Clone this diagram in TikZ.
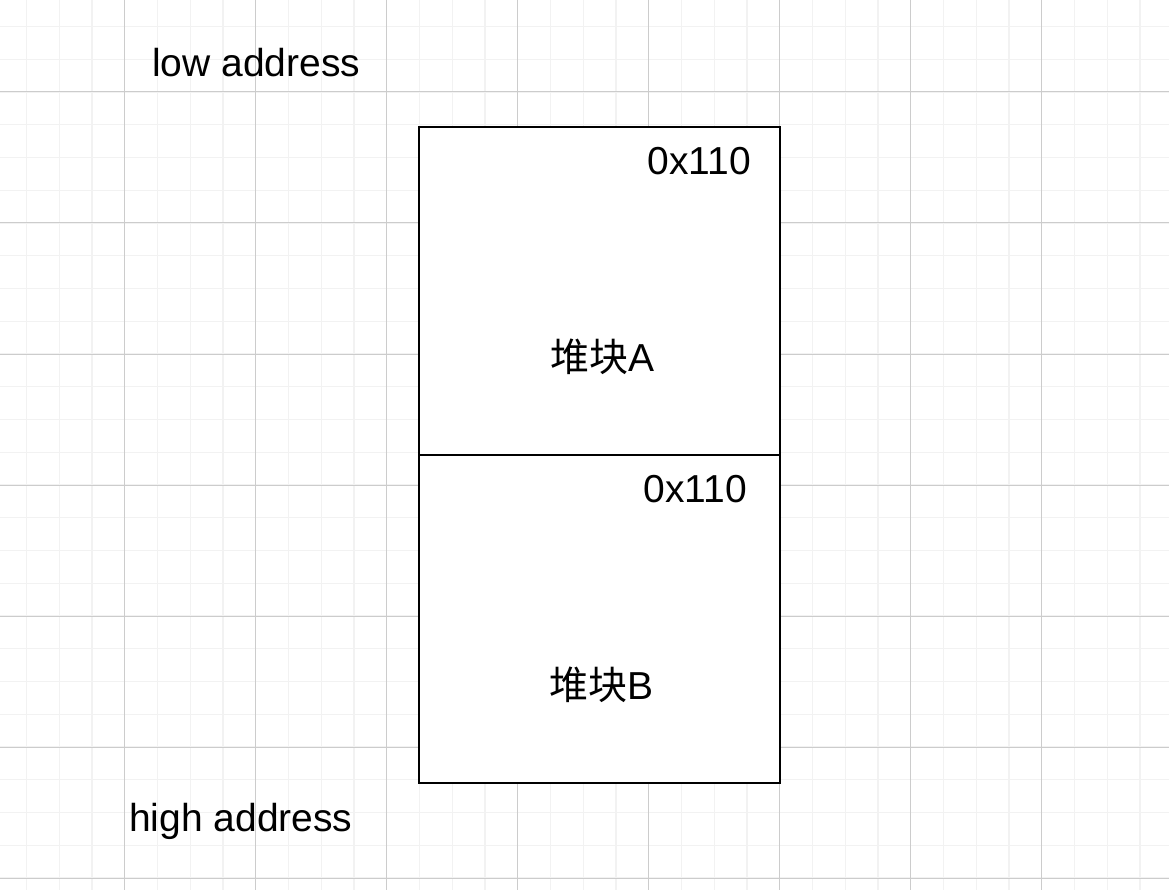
\documentclass[tikz,border=0pt]{standalone}
\usepackage{fontspec}
\setmainfont{Liberation Sans}
\newfontfamily\cjk{Noto Sans CJK SC}
\tikzset{
  gridminor/.style={line width=1.3pt, color=black!5},
  gridmajor/.style={line width=1pt, color=black!20},
  chunk/.style={draw, fill=white, line width=2.5pt, minimum width=361pt, minimum height=328pt, inner sep=0pt},
  lbl/.style={inner sep=0pt, font=\fontsize{39}{45}\selectfont}
}
\begin{document}
\begin{tikzpicture}
    [x=1pt,y=-1pt]
    \useasboundingbox (0,0) rectangle (1169,890);
    \fill[white] (0,0) rectangle (1169,890);
    %grid
    \foreach \i in {0,...,36} {
      \draw[gridminor] ({-6.3+32.75*\i},0)--({-6.3+32.75*\i},890);
    }
    \foreach \i in {0,...,28} {
      \draw[gridminor] (0,{-6.3+32.75*\i})--(1169,{-6.3+32.75*\i});
    }
    \foreach \i in {1,...,9} {
      \draw[gridmajor] ({-6.3+131*\i},0)--({-6.3+131*\i},890);
    }
    \foreach \i in {1,...,7} {
      \draw[gridmajor] (0,{-39+131*\i})--(1169,{-39+131*\i});
    }
    %chunks
    \node[chunk] (chunkA) at (599.5,291) {};
    \node[chunk] (chunkB) at (599.5,619) {};
    %labels
    \node[lbl, anchor=base west] (low) at (152,77) {low address};
    \node[lbl, anchor=base west] (high) at (129,831) {high address};
    \node[lbl, anchor=base east] (sizeA) at (751,175) {0x110};
    \node[lbl, anchor=base east] (sizeB) at (747,502) {0x110};
    \node[lbl, anchor=base] (nameA) at (602,371) {{\cjk 堆块}A};
    \node[lbl, anchor=base] (nameB) at (601,699) {{\cjk 堆块}B};
\end{tikzpicture}
\end{document}
